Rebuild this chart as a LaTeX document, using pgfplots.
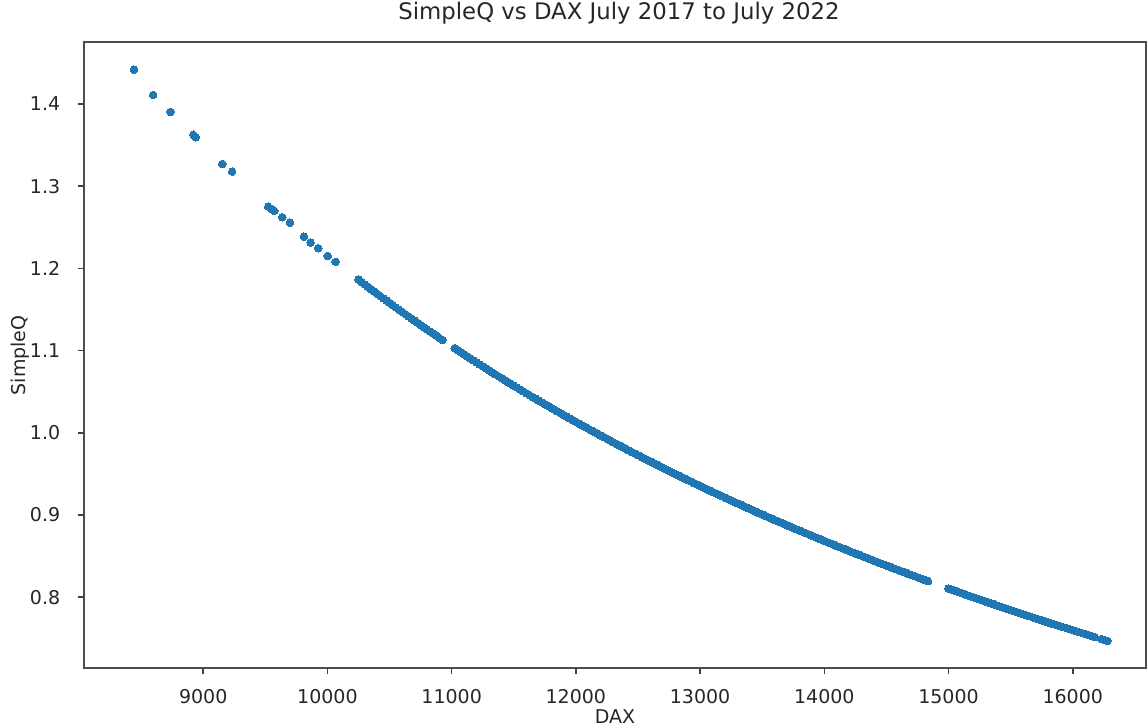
\documentclass[border=0pt]{standalone}
\usepackage{fontspec}
\setmainfont{DejaVu Sans}
\usepackage{pgfplots}
\pgfplotsset{compat=1.18}
\definecolor{mplblue}{HTML}{1F77B4}
\begin{document}
\begin{tikzpicture}
\begin{axis}[
  name=ax,
  scale only axis,
  width=531bp, height=313bp,
  xmin=8040, xmax=16590,
  ymin=0.7136, ymax=1.475,
  xtick={9000,10000,11000,12000,13000,14000,15000,16000},
  ytick={0.8,0.9,1.0,1.1,1.2,1.3,1.4},
  scaled x ticks=false, scaled y ticks=false,
  tick pos=left,
  tick align=outside,
  major tick length=3bp,
  every tick/.style={black!75, line width=0.8bp},
  axis line style={black!70, line width=0.9bp},
  /pgf/number format/assume math mode=true,
  every tick label/.append style={font=\fontsize{9.5bp}{11bp}\selectfont, text=black!85},
  xticklabel style={/pgf/number format/1000 sep={}, anchor=base, yshift=-14.7bp, inner sep=0pt},
  yticklabel style={/pgf/number format/fixed, /pgf/number format/fixed zerofill, /pgf/number format/precision=1, anchor=east, xshift=-8.7bp, inner sep=0pt},
  xlabel={DAX},
  ylabel={SimpleQ},
  xlabel style={at={(axis description cs:0.5,0)}, anchor=base, yshift=-27.6bp, inner sep=0pt, font=\fontsize{9.5bp}{11bp}\selectfont, text=black!85},
  ylabel style={at={(axis description cs:-0.0603,0.5)}, anchor=center, inner sep=0pt, font=\fontsize{9.5bp}{11bp}\selectfont, text=black!85},
  title={SimpleQ vs DAX July 2017 to July 2022},
  title style={at={(axis description cs:0.5,1)}, anchor=base, yshift=5.3bp, xshift=2bp, inner sep=0pt, font=\fontsize{11.4bp}{13bp}\selectfont, text=black!85},
]
\addplot[only marks, color=mplblue, mark=*, mark size=1.9bp, mark options={draw=mplblue, fill=mplblue, line width=0pt}] coordinates {
(8442,1.4417) (8597,1.4110) (8737,1.3903) (8920,1.3625) (8940,1.3595)
(9153,1.3270) (9233,1.3177) (9523,1.2751) (9551,1.2723) (9572,1.2700)
(9636,1.2622) (9698,1.2556) (9811,1.2386) (9865,1.2313) (9926,1.2245)
(10002,1.2151) (10066,1.2080)
(10250,1.1863) (10275,1.1835) (10300,1.1806) (10325,1.1777) (10350,1.1749) (10375,1.1721)
(10400,1.1692) (10425,1.1664) (10450,1.1636) (10475,1.1609) (10500,1.1581) (10525,1.1554)
(10550,1.1526) (10575,1.1499) (10600,1.1472) (10625,1.1445) (10650,1.1418) (10675,1.1391)
(10700,1.1364) (10725,1.1338) (10750,1.1312) (10775,1.1285) (10800,1.1259) (10825,1.1233)
(10850,1.1208) (10875,1.1182) (10900,1.1156) (10925,1.1130)
(11025,1.1030) (11050,1.1005) (11075,1.0980) (11100,1.0955) (11125,1.0930) (11150,1.0906)
(11175,1.0882) (11200,1.0857) (11225,1.0833) (11250,1.0809) (11275,1.0785) (11300,1.0761)
(11325,1.0737) (11350,1.0714) (11375,1.0690) (11400,1.0667) (11425,1.0643) (11450,1.0620)
(11475,1.0597) (11500,1.0574) (11525,1.0551) (11550,1.0528) (11575,1.0506) (11600,1.0483)
(11625,1.0460) (11650,1.0438) (11675,1.0416) (11700,1.0393) (11725,1.0371) (11750,1.0349)
(11775,1.0327) (11800,1.0305) (11825,1.0283) (11850,1.0262) (11875,1.0240) (11900,1.0218)
(11925,1.0197) (11950,1.0176) (11975,1.0155) (12000,1.0133) (12025,1.0112) (12050,1.0091)
(12075,1.0071) (12100,1.0050) (12125,1.0029) (12150,1.0008) (12175,0.9988) (12200,0.9967)
(12225,0.9947) (12250,0.9927) (12275,0.9906) (12300,0.9886) (12325,0.9866) (12350,0.9846)
(12375,0.9826) (12400,0.9806) (12425,0.9787) (12450,0.9767) (12475,0.9748) (12500,0.9728)
(12525,0.9709) (12550,0.9689) (12575,0.9670) (12600,0.9651) (12625,0.9632) (12650,0.9613)
(12675,0.9594) (12700,0.9575) (12725,0.9556) (12750,0.9537) (12775,0.9519) (12800,0.9500)
(12825,0.9482) (12850,0.9463) (12875,0.9445) (12900,0.9426) (12925,0.9408) (12950,0.9390)
(12975,0.9372) (13000,0.9354) (13025,0.9336) (13050,0.9318) (13075,0.9300) (13100,0.9282)
(13125,0.9265) (13150,0.9247) (13175,0.9230) (13200,0.9212) (13225,0.9195) (13250,0.9177)
(13275,0.9160) (13300,0.9143) (13325,0.9126) (13350,0.9109) (13375,0.9092) (13400,0.9075)
(13425,0.9058) (13450,0.9041) (13475,0.9024) (13500,0.9007) (13525,0.8991) (13550,0.8974)
(13575,0.8958) (13600,0.8941) (13625,0.8925) (13650,0.8909) (13675,0.8892) (13700,0.8876)
(13725,0.8860) (13750,0.8844) (13775,0.8828) (13800,0.8812) (13825,0.8796) (13850,0.8780)
(13875,0.8764) (13900,0.8748) (13925,0.8733) (13950,0.8717) (13975,0.8701) (14000,0.8686)
(14025,0.8670) (14050,0.8655) (14075,0.8640) (14100,0.8624) (14125,0.8609) (14150,0.8594)
(14175,0.8579) (14200,0.8563) (14225,0.8548) (14250,0.8533) (14275,0.8518) (14300,0.8504)
(14325,0.8489) (14350,0.8474) (14375,0.8459) (14400,0.8444) (14425,0.8430) (14450,0.8415)
(14475,0.8401) (14500,0.8386) (14525,0.8372) (14550,0.8357) (14575,0.8343) (14600,0.8329)
(14625,0.8315) (14650,0.8300) (14675,0.8286) (14700,0.8272) (14725,0.8258) (14750,0.8244)
(14775,0.8230) (14800,0.8216) (14825,0.8202) (14835,0.8197)
(15000,0.8107) (15025,0.8093) (15050,0.8080) (15075,0.8066) (15100,0.8053) (15125,0.8040)
(15150,0.8026) (15175,0.8013) (15200,0.8000) (15225,0.7987) (15250,0.7974) (15275,0.7961)
(15300,0.7948) (15325,0.7935) (15350,0.7922) (15375,0.7909) (15400,0.7896) (15425,0.7883)
(15450,0.7871) (15475,0.7858) (15500,0.7845) (15525,0.7833) (15550,0.7820) (15575,0.7807)
(15600,0.7795) (15625,0.7782) (15650,0.7770) (15675,0.7758) (15700,0.7745) (15725,0.7733)
(15750,0.7721) (15775,0.7708) (15800,0.7696) (15825,0.7684) (15850,0.7672) (15875,0.7660)
(15900,0.7648) (15925,0.7636) (15950,0.7624) (15975,0.7612) (16000,0.7600) (16025,0.7588)
(16050,0.7576) (16075,0.7565) (16100,0.7553) (16125,0.7541) (16150,0.7529) (16175,0.7518)
(16230,0.7492) (16255,0.7481) (16280,0.7469)
};
\end{axis}
\pgfresetboundingbox
\path[use as bounding box] (ax.south west) ++(-42bp,-28.85bp) rectangle ++(574bp,363bp);
\end{tikzpicture}
\end{document}
